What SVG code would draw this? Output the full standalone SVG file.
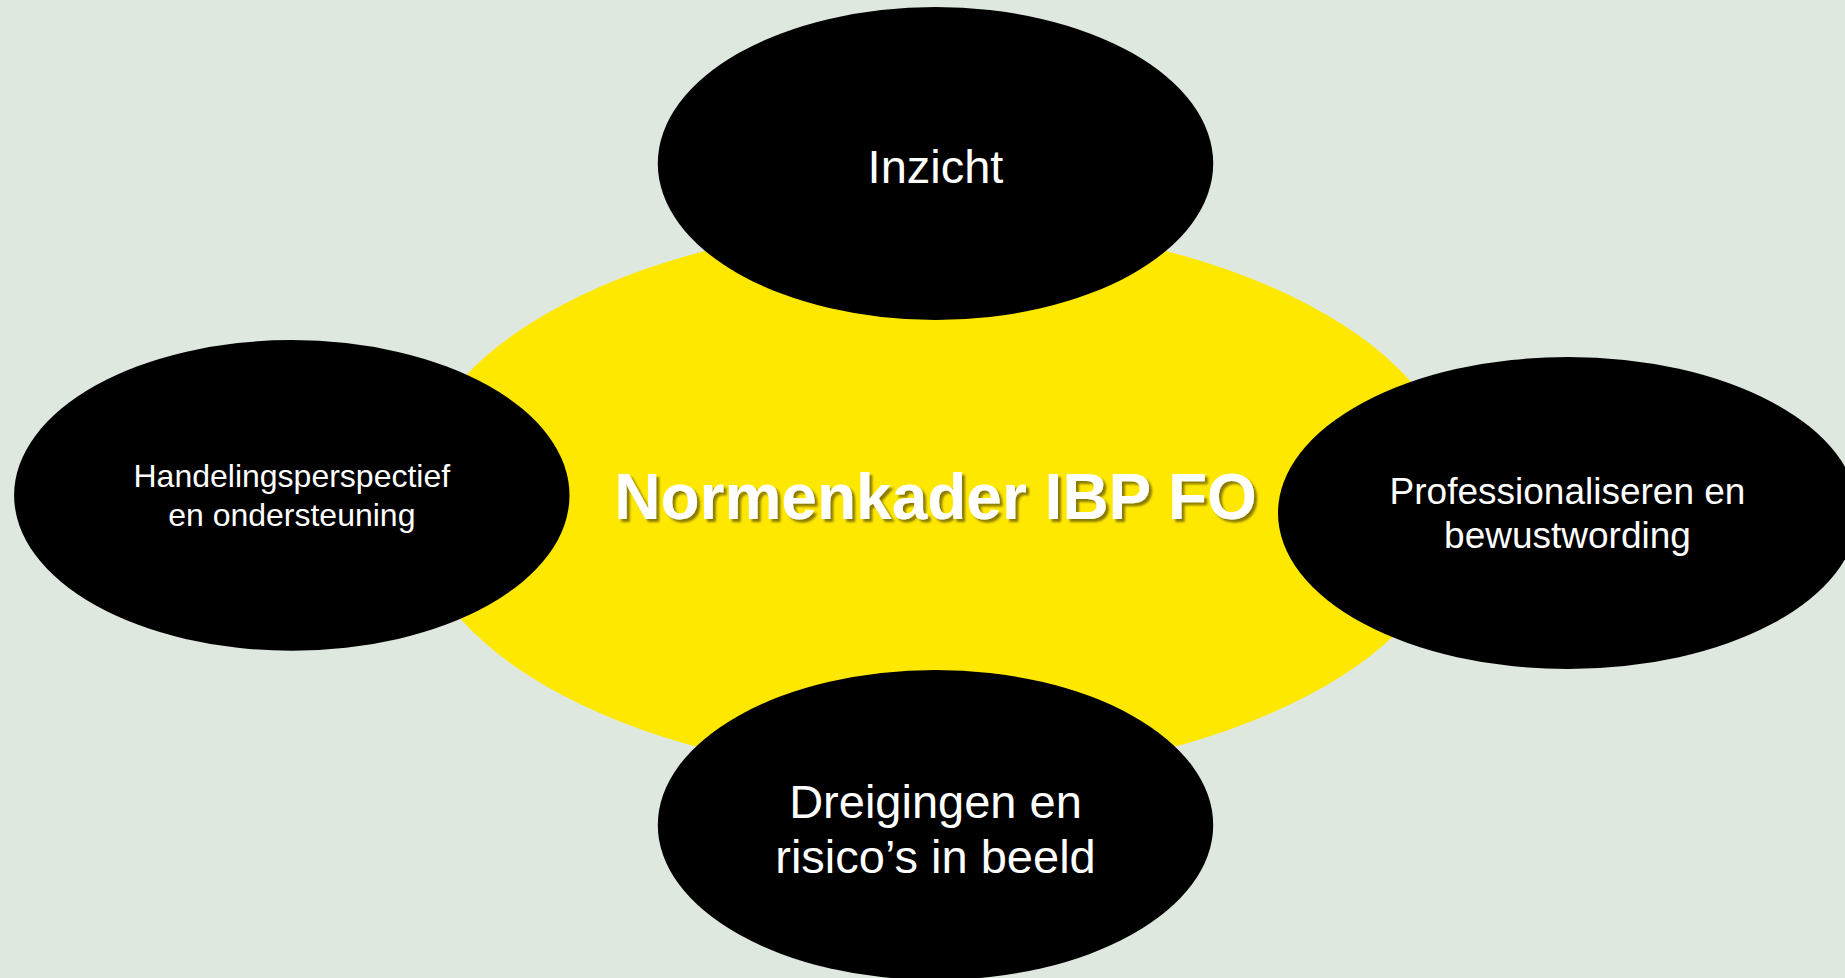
<svg xmlns="http://www.w3.org/2000/svg" width="1845" height="978" viewBox="0 0 1845 978">
<defs>
<style>
.bg{fill:#dee8df}
.hub{fill:#ffe800}
.node{fill:#000000}
.t{font-family:"Liberation Sans",Arial,sans-serif;fill:#ffffff;text-anchor:middle}
.title{font-family:"Liberation Sans",Arial,sans-serif;fill:#ffffff;text-anchor:middle;font-weight:bold;font-size:64px}
</style>
<filter id="shadow" x="-10%" y="-30%" width="120%" height="160%">
<feDropShadow dx="3" dy="3" stdDeviation="1.2" flood-color="#3a3400" flood-opacity="0.6"/>
</filter>
</defs>
<rect class="bg" x="0" y="0" width="1845" height="978"/>
<g id="center">
<ellipse class="hub" cx="935.5" cy="500" rx="526" ry="277"/>
<text class="title" x="935.5" y="519" filter="url(#shadow)">Normenkader IBP FO</text>
</g>
<g id="connectors"></g>
<g id="node-inzicht">
<ellipse class="node" cx="935.5" cy="163.5" rx="277.7" ry="156.5"/>
<text class="t" x="935.5" y="183" font-size="47">Inzicht</text>
</g>
<g id="node-handelingsperspectief">
<ellipse class="node" cx="291.8" cy="495.4" rx="277.7" ry="155.3"/>
<text class="t" font-size="32"><tspan x="291.8" y="487">Handelingsperspectief</tspan><tspan x="291.8" y="526">en ondersteuning</tspan></text>
</g>
<g id="node-professionaliseren">
<ellipse class="node" cx="1568" cy="513" rx="290" ry="156"/>
<text class="t" font-size="37"><tspan x="1567.5" y="503.5">Professionaliseren en</tspan><tspan x="1567.5" y="548">bewustwording</tspan></text>
</g>
<g id="node-dreigingen">
<ellipse class="node" cx="935.5" cy="825" rx="277.7" ry="155"/>
<text class="t" font-size="47"><tspan x="935.5" y="818">Dreigingen en</tspan><tspan x="935.5" y="873">risico’s in beeld</tspan></text>
</g>
</svg>
